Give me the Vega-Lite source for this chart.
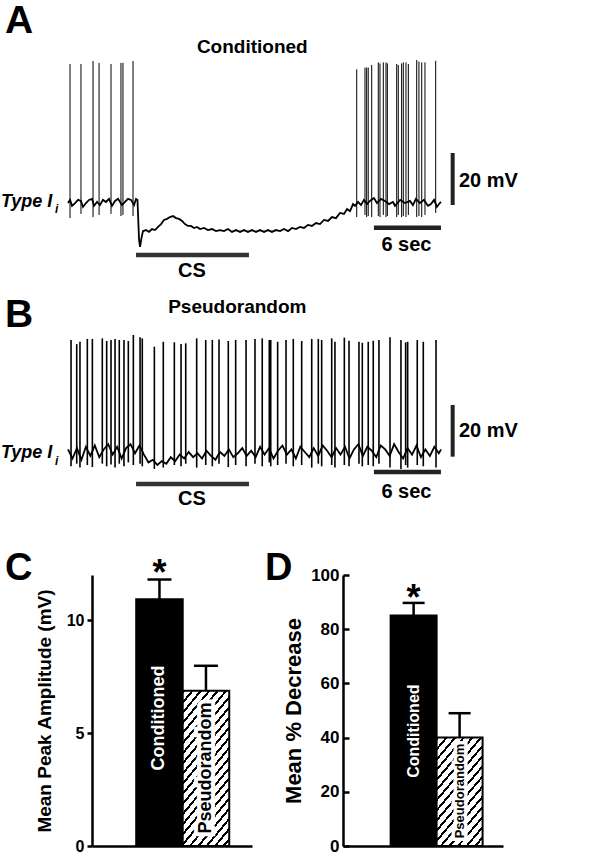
{
"$schema": "https://vega.github.io/schema/vega-lite/v6.json",
"background": "white",
"padding": 0,
"spacing": 0,
"bounds": "flush",
"config": {"font": "Liberation Sans", "view": {"stroke": null}, "axis": {"grid": false}},
"datasets": {
"one": [{}],
"traceA": [{"t":0,"v":-0.4},{"t":0.18,"v":0.8},{"t":0.36,"v":-1.5},{"t":0.63,"v":-0.4},{"t":0.9,"v":0.8},{"t":1.16,"v":0.4},{"t":1.34,"v":-1.9},{"t":1.61,"v":-0.4},{"t":1.88,"v":0.8},{"t":2.15,"v":1.2},{"t":2.33,"v":-1.5},{"t":2.6,"v":0},{"t":2.86,"v":-1.2},{"t":3.13,"v":0.8},{"t":3.4,"v":0},{"t":3.67,"v":1.2},{"t":3.94,"v":-1.5},{"t":4.21,"v":0.4},{"t":4.48,"v":1.2},{"t":4.83,"v":-1.2},{"t":5.1,"v":0},{"t":5.37,"v":1.2},{"t":5.64,"v":0.8},{"t":5.91,"v":-1.2},{"t":6.09,"v":1.2},{"t":6.22,"v":0.8},{"t":6.36,"v":-14.6},{"t":6.45,"v":-17.3},{"t":6.58,"v":-13.8},{"t":6.71,"v":-11.2},{"t":6.98,"v":-10.8},{"t":7.25,"v":-11.5},{"t":7.52,"v":-10.4},{"t":7.79,"v":-10.8},{"t":8.06,"v":-9.6},{"t":8.33,"v":-8.5},{"t":8.59,"v":-6.9},{"t":8.86,"v":-6.5},{"t":9.13,"v":-5.8},{"t":9.4,"v":-5.4},{"t":9.67,"v":-6.2},{"t":9.94,"v":-6.5},{"t":10.21,"v":-7.3},{"t":10.47,"v":-8.5},{"t":10.74,"v":-9.2},{"t":11.01,"v":-9.2},{"t":11.28,"v":-10},{"t":11.55,"v":-9.6},{"t":11.82,"v":-10.4},{"t":12.18,"v":-10},{"t":12.53,"v":-10.8},{"t":12.89,"v":-10.4},{"t":13.25,"v":-11.2},{"t":13.61,"v":-10.8},{"t":13.97,"v":-11.2},{"t":14.32,"v":-10.4},{"t":14.68,"v":-11.5},{"t":15.04,"v":-10.8},{"t":15.4,"v":-11.5},{"t":15.76,"v":-10.8},{"t":16.11,"v":-11.5},{"t":16.47,"v":-10.8},{"t":16.83,"v":-11.5},{"t":17.19,"v":-10.8},{"t":17.55,"v":-11.5},{"t":17.9,"v":-10.8},{"t":18.26,"v":-11.5},{"t":18.62,"v":-10.8},{"t":18.98,"v":-11.2},{"t":19.34,"v":-10.4},{"t":19.7,"v":-11.2},{"t":20.05,"v":-10},{"t":20.41,"v":-10.4},{"t":20.77,"v":-9.6},{"t":21.13,"v":-10},{"t":21.49,"v":-8.8},{"t":21.84,"v":-9.2},{"t":22.2,"v":-8.1},{"t":22.56,"v":-8.5},{"t":22.92,"v":-6.9},{"t":23.28,"v":-7.3},{"t":23.63,"v":-5.8},{"t":23.99,"v":-6.2},{"t":24.35,"v":-4.2},{"t":24.71,"v":-4.6},{"t":24.98,"v":-2.7},{"t":25.25,"v":-3.5},{"t":25.52,"v":-0.8},{"t":25.7,"v":-1.5},{"t":25.97,"v":0},{"t":26.23,"v":-1.2},{"t":26.5,"v":0.8},{"t":26.77,"v":-0.8},{"t":27.03,"v":0.4},{"t":27.39,"v":1.5},{"t":27.66,"v":-0.4},{"t":28.02,"v":1.2},{"t":28.38,"v":0.4},{"t":28.74,"v":-0.8},{"t":29.1,"v":0},{"t":29.28,"v":-1.5},{"t":29.74,"v":0.8},{"t":30.18,"v":-0.4},{"t":30.62,"v":0.4},{"t":30.88,"v":-1.2},{"t":31.15,"v":1.2},{"t":31.51,"v":-0.4},{"t":31.87,"v":0.8},{"t":32.23,"v":-1.5},{"t":32.5,"v":-0.8},{"t":32.77,"v":0.8},{"t":33.03,"v":-1.9},{"t":33.21,"v":-0.8},{"t":33.39,"v":0}],
"spikesA": [{"t":0.18,"peak":53.1,"low":-6.2},{"t":1.16,"peak":53.1,"low":-4.6},{"t":2.24,"peak":54.2,"low":-5.8},{"t":2.78,"peak":53.5,"low":-5.0},{"t":3.85,"peak":53.1,"low":-4.6},{"t":4.74,"peak":53.5,"low":-5.4},{"t":4.92,"peak":53.5,"low":-5.0},{"t":5.82,"peak":54.2,"low":-5.4},{"t":25.85,"peak":51.0,"low":-5.8},{"t":26.59,"peak":51.7,"low":-5.0},{"t":26.74,"peak":51.7,"low":-5.8},{"t":26.88,"peak":51.7,"low":-5.4},{"t":27.19,"peak":52.7,"low":-5.8},{"t":27.78,"peak":53.7,"low":-5.4},{"t":27.93,"peak":53.3,"low":-5.8},{"t":28.23,"peak":53.7,"low":-5.0},{"t":28.47,"peak":53.7,"low":-5.8},{"t":28.59,"peak":53.3,"low":-5.4},{"t":29.43,"peak":53.1,"low":-5.8},{"t":29.57,"peak":52.7,"low":-5.0},{"t":29.87,"peak":53.3,"low":-5.8},{"t":30.02,"peak":53.7,"low":-5.4},{"t":30.26,"peak":53.7,"low":-5.8},{"t":30.47,"peak":53.1,"low":-5.0},{"t":31.22,"peak":54.6,"low":-5.8},{"t":31.42,"peak":54.0,"low":-5.4},{"t":31.67,"peak":53.7,"low":-5.8},{"t":31.96,"peak":53.7,"low":-5.0},{"t":32.92,"peak":54.3,"low":-4.2}],
"traceB": [{"t":0,"v":1.0},{"t":0.4,"v":-2.5},{"t":0.8,"v":1.5},{"t":1.2,"v":-3.0},{"t":1.6,"v":2.0},{"t":2.0,"v":-1.5},{"t":2.4,"v":2.5},{"t":2.8,"v":-2.0},{"t":3.2,"v":1.0},{"t":3.6,"v":3.0},{"t":4.0,"v":-1.0},{"t":4.4,"v":2.0},{"t":4.8,"v":-2.5},{"t":5.2,"v":1.5},{"t":5.6,"v":3.0},{"t":6.0,"v":-0.5},{"t":6.4,"v":2.5},{"t":6.8,"v":-1.0},{"t":7.2,"v":-4.0},{"t":7.6,"v":-3.0},{"t":8.0,"v":-5.0},{"t":8.4,"v":-3.5},{"t":8.8,"v":-4.5},{"t":9.2,"v":-2.0},{"t":9.6,"v":-3.5},{"t":10.0,"v":-1.0},{"t":10.4,"v":-2.5},{"t":10.8,"v":0.0},{"t":11.2,"v":-2.0},{"t":11.6,"v":-0.5},{"t":12.0,"v":-2.5},{"t":12.4,"v":0.5},{"t":12.8,"v":-1.5},{"t":13.2,"v":-3.0},{"t":13.6,"v":0.0},{"t":14.0,"v":-1.5},{"t":14.4,"v":1.0},{"t":14.8,"v":-2.0},{"t":15.2,"v":-0.5},{"t":15.6,"v":1.5},{"t":16.0,"v":-1.5},{"t":16.4,"v":0.5},{"t":16.8,"v":-2.0},{"t":17.2,"v":2.0},{"t":17.6,"v":-1.0},{"t":18.0,"v":1.5},{"t":18.4,"v":-2.5},{"t":18.8,"v":0.5},{"t":19.2,"v":2.5},{"t":19.6,"v":-1.0},{"t":20.0,"v":1.0},{"t":20.4,"v":-2.5},{"t":20.8,"v":2.0},{"t":21.2,"v":0.0},{"t":21.6,"v":-2.0},{"t":22.0,"v":1.5},{"t":22.4,"v":-1.5},{"t":22.8,"v":2.5},{"t":23.2,"v":0.5},{"t":23.6,"v":-2.0},{"t":24.0,"v":1.5},{"t":24.4,"v":-1.0},{"t":24.8,"v":2.0},{"t":25.2,"v":-2.5},{"t":25.6,"v":1.0},{"t":26.0,"v":3.0},{"t":26.4,"v":-1.5},{"t":26.8,"v":2.0},{"t":27.2,"v":0.5},{"t":27.6,"v":-2.0},{"t":28.0,"v":2.5},{"t":28.4,"v":1.0},{"t":28.8,"v":-1.5},{"t":29.2,"v":3.0},{"t":29.6,"v":0.0},{"t":30.0,"v":-2.5},{"t":30.4,"v":1.5},{"t":30.8,"v":-1.0},{"t":31.2,"v":2.5},{"t":31.6,"v":-2.0},{"t":32.0,"v":1.0},{"t":32.4,"v":-1.5},{"t":32.8,"v":2.0},{"t":33.2,"v":-0.5},{"t":33.4,"v":1.0}],
"spikesB": [{"t":0.27,"peak":43.1,"low":-5.5},{"t":0.78,"peak":41.5,"low":-4.5},{"t":1.07,"peak":42.4,"low":-6.0},{"t":1.73,"peak":43.5,"low":-5.0},{"t":2.18,"peak":43.5,"low":-5.8},{"t":3.07,"peak":43.7,"low":-4.5},{"t":3.46,"peak":42.7,"low":-5.5},{"t":3.85,"peak":43.1,"low":-4.8},{"t":4.21,"peak":43.5,"low":-6.0},{"t":4.59,"peak":43.1,"low":-4.5},{"t":5.01,"peak":43.1,"low":-5.5},{"t":5.4,"peak":42.7,"low":-4.0},{"t":5.85,"peak":45.0,"low":-5.0},{"t":6.45,"peak":44.1,"low":-4.5},{"t":6.65,"peak":43.7,"low":-5.5},{"t":7.73,"peak":40.5,"low":-6.5},{"t":8.53,"peak":42.4,"low":-6.0},{"t":9.52,"peak":42.2,"low":-5.0},{"t":10.12,"peak":41.5,"low":-5.5},{"t":10.54,"peak":41.8,"low":-4.5},{"t":11.52,"peak":43.7,"low":-6.0},{"t":12.33,"peak":43.1,"low":-5.0},{"t":12.92,"peak":43.1,"low":-5.5},{"t":13.52,"peak":43.3,"low":-4.5},{"t":14.35,"peak":42.7,"low":-5.8},{"t":15.01,"peak":43.1,"low":-5.0},{"t":15.94,"peak":43.1,"low":-5.5},{"t":16.74,"peak":43.5,"low":-4.5},{"t":17.39,"peak":43.7,"low":-5.5},{"t":18.02,"peak":43.1,"low":-4.0},{"t":18.15,"peak":43.1,"low":-5.5},{"t":18.77,"peak":42.4,"low":-5.0},{"t":19.52,"peak":43.1,"low":-4.5},{"t":20.17,"peak":43.5,"low":-5.5},{"t":20.92,"peak":42.7,"low":-5.0},{"t":21.82,"peak":43.5,"low":-6.0},{"t":22.41,"peak":43.5,"low":-4.5},{"t":22.71,"peak":43.1,"low":-5.5},{"t":23.61,"peak":43.7,"low":-5.0},{"t":23.9,"peak":42.4,"low":-6.0},{"t":24.74,"peak":44.0,"low":-5.0},{"t":25.16,"peak":42.8,"low":-5.5},{"t":26.05,"peak":42.4,"low":-4.5},{"t":26.35,"peak":42.0,"low":-5.5},{"t":26.88,"peak":42.4,"low":-5.0},{"t":27.33,"peak":42.8,"low":-5.5},{"t":27.84,"peak":43.1,"low":-4.5},{"t":28.83,"peak":44.1,"low":-6.0},{"t":29.81,"peak":43.1,"low":-6.5},{"t":30.23,"peak":42.2,"low":-5.0},{"t":30.41,"peak":42.4,"low":-6.0},{"t":31.27,"peak":43.1,"low":-5.0},{"t":31.81,"peak":42.4,"low":-5.5},{"t":32.95,"peak":43.1,"low":-6.0}],
"barsC": [{"group":"Conditioned","mean":10.93,"upper":11.8},{"group":"Pseudorandom","mean":6.87,"upper":7.98}],
"barsD": [{"group":"Conditioned","mean":85.1,"upper":89.7},{"group":"Pseudorandom","mean":40.0,"upper":49.0}]
},
"vconcat": [
{
"width": 603, "height": 275,
"layer": [
{"data": {"name": "traceA"}, "mark": {"type": "line", "color": "black", "strokeWidth": 1.8},
 "encoding": {"x": {"field": "t", "type": "quantitative", "scale": {"domain": [-6.09, 47.9], "nice": false, "zero": false}, "axis": null},
              "y": {"field": "v", "type": "quantitative", "scale": {"domain": [-28.08, 77.69], "nice": false, "zero": false}, "axis": null}}},
{"data": {"name": "spikesA"}, "mark": {"type": "rule", "color": "black", "strokeWidth": 1},
 "encoding": {"x": {"field": "t", "type": "quantitative"}, "y": {"field": "low", "type": "quantitative"}, "y2": {"field": "peak"}}},
{"data": {"name": "one"}, "mark": {"type": "rule", "color": "#222", "strokeWidth": 4}, "encoding": {"x": {"datum": 34.44}, "y": {"datum": -1.15}, "y2": {"datum": 18.85}}},
{"data": {"name": "one"}, "mark": {"type": "rule", "color": "#222", "strokeWidth": 4.5}, "encoding": {"x": {"datum": 27.39}, "x2": {"datum": 33.39}, "y": {"datum": -9.88}}},
{"data": {"name": "one"}, "mark": {"type": "rule", "color": "#333", "strokeWidth": 4.5}, "encoding": {"x": {"datum": 6.09}, "x2": {"datum": 16.2}, "y": {"datum": -20.4}}},
{"data": {"name": "one"}, "mark": {"type": "text", "text": "A", "fontSize": 39, "fontWeight": "bold", "align": "center", "baseline": "alphabetic"}, "encoding": {"x": {"datum": -4.39}, "y": {"datum": 65.0}}},
{"data": {"name": "one"}, "mark": {"type": "text", "text": "Conditioned", "fontSize": 19, "fontWeight": "bold", "align": "center", "baseline": "alphabetic"}, "encoding": {"x": {"datum": 16.5}, "y": {"datum": 57.2}}},
{"data": {"name": "one"}, "mark": {"type": "text", "text": "Type I", "fontSize": 18, "fontWeight": "bold", "fontStyle": "italic", "align": "left", "baseline": "alphabetic"}, "encoding": {"x": {"datum": -6.0}, "y": {"datum": -2.0}}},
{"data": {"name": "one"}, "mark": {"type": "text", "text": "i", "fontSize": 12, "fontWeight": "bold", "fontStyle": "italic", "align": "left", "baseline": "alphabetic"}, "encoding": {"x": {"datum": -1.16}, "y": {"datum": -4.3}}},
{"data": {"name": "one"}, "mark": {"type": "text", "text": "20 mV", "fontSize": 20, "fontWeight": "bold", "align": "left", "baseline": "alphabetic"}, "encoding": {"x": {"datum": 35.0}, "y": {"datum": 5.9}}},
{"data": {"name": "one"}, "mark": {"type": "text", "text": "6 sec", "fontSize": 20, "fontWeight": "bold", "align": "center", "baseline": "alphabetic"}, "encoding": {"x": {"datum": 30.3}, "y": {"datum": -18.7}}},
{"data": {"name": "one"}, "mark": {"type": "text", "text": "CS", "fontSize": 20, "fontWeight": "bold", "align": "center", "baseline": "alphabetic"}, "encoding": {"x": {"datum": 11.1}, "y": {"datum": -28.7}}}
]
},
{
"width": 603, "height": 300,
"layer": [
{"data": {"name": "traceB"}, "mark": {"type": "line", "color": "black", "strokeWidth": 1.8},
 "encoding": {"x": {"field": "t", "type": "quantitative", "scale": {"domain": [-6.09, 47.9], "nice": false, "zero": false}, "axis": null},
              "y": {"field": "v", "type": "quantitative", "scale": {"domain": [-47.31, 68.08], "nice": false, "zero": false}, "axis": null}}},
{"data": {"name": "spikesB"}, "mark": {"type": "rule", "color": "black", "strokeWidth": 1.6},
 "encoding": {"x": {"field": "t", "type": "quantitative"}, "y": {"field": "low", "type": "quantitative"}, "y2": {"field": "peak"}}},
{"data": {"name": "one"}, "mark": {"type": "rule", "color": "#222", "strokeWidth": 4}, "encoding": {"x": {"datum": 34.44}, "y": {"datum": -1.8}, "y2": {"datum": 18.1}}},
{"data": {"name": "one"}, "mark": {"type": "rule", "color": "#222", "strokeWidth": 4.5}, "encoding": {"x": {"datum": 27.39}, "x2": {"datum": 33.39}, "y": {"datum": -7.7}}},
{"data": {"name": "one"}, "mark": {"type": "rule", "color": "#333", "strokeWidth": 4.5}, "encoding": {"x": {"datum": 6.09}, "x2": {"datum": 16.2}, "y": {"datum": -12.3}}},
{"data": {"name": "one"}, "mark": {"type": "text", "text": "B", "fontSize": 39, "fontWeight": "bold", "align": "center", "baseline": "alphabetic"}, "encoding": {"x": {"datum": -4.39}, "y": {"datum": 48.2}}},
{"data": {"name": "one"}, "mark": {"type": "text", "text": "Pseudorandom", "fontSize": 19, "fontWeight": "bold", "align": "center", "baseline": "alphabetic"}, "encoding": {"x": {"datum": 15.16}, "y": {"datum": 53.6}}},
{"data": {"name": "one"}, "mark": {"type": "text", "text": "Type I", "fontSize": 18, "fontWeight": "bold", "fontStyle": "italic", "align": "left", "baseline": "alphabetic"}, "encoding": {"x": {"datum": -6.0}, "y": {"datum": -2.4}}},
{"data": {"name": "one"}, "mark": {"type": "text", "text": "i", "fontSize": 12, "fontWeight": "bold", "fontStyle": "italic", "align": "left", "baseline": "alphabetic"}, "encoding": {"x": {"datum": -1.16}, "y": {"datum": -5.0}}},
{"data": {"name": "one"}, "mark": {"type": "text", "text": "20 mV", "fontSize": 20, "fontWeight": "bold", "align": "left", "baseline": "alphabetic"}, "encoding": {"x": {"datum": 35.0}, "y": {"datum": 5.9}}},
{"data": {"name": "one"}, "mark": {"type": "text", "text": "6 sec", "fontSize": 20, "fontWeight": "bold", "align": "center", "baseline": "alphabetic"}, "encoding": {"x": {"datum": 30.3}, "y": {"datum": -17.8}}},
{"data": {"name": "one"}, "mark": {"type": "text", "text": "CS", "fontSize": 20, "fontWeight": "bold", "align": "center", "baseline": "alphabetic"}, "encoding": {"x": {"datum": 11.1}, "y": {"datum": -20.4}}}
]
},
{
"hconcat": [
{"width": 92, "height": 271, "data": {"values": []}, "mark": "point"},
{
"width": 160, "height": 271,
"title": {"text": "C", "anchor": "start", "frame": "group", "fontSize": 38, "fontWeight": "bold", "color": "black", "dx": -87, "offset": 0, "baseline": "alphabetic", "dy": 62},
"data": {"name": "barsC"},
"encoding": {"x": {"field": "group", "type": "nominal", "scale": {"domain": ["Conditioned", "Pseudorandom"], "paddingInner": 0, "paddingOuter": 0.72, "align": 0.66},
  "axis": {"labels": false, "ticks": false, "title": null, "domainWidth": 2.5, "domainColor": "black"}}},
"layer": [
{"transform": [{"filter": "datum.group === 'Conditioned'"}], "mark": {"type": "bar", "fill": "black", "stroke": "black", "strokeWidth": 2},
 "encoding": {"y": {"field": "mean", "type": "quantitative", "scale": {"domain": [0, 12], "nice": false},
   "axis": {"values": [0, 5, 10], "title": "Mean Peak Amplitude (mV)", "titleFontSize": 19, "titleFontWeight": "bold", "titleColor": "black", "titlePadding": 12,
            "labelFontSize": 16, "labelFontWeight": "bold", "labelColor": "black", "labelPadding": 3,
            "domainColor": "black", "domainWidth": 2.5, "tickColor": "black", "tickWidth": 2.5, "tickSize": 5}}}},
{"transform": [{"filter": "datum.group === 'Pseudorandom'"}], "mark": {"type": "bar", "stroke": "black", "strokeWidth": 2,
  "fill": {"gradient": "linear", "x1": 0, "y1": 0, "x2": 0.436, "y2": 1.204, "stops": [
  {"offset":0,"color":"black"},{"offset":0.015,"color":"black"},{"offset":0.015,"color":"white"},{"offset":0.048,"color":"white"},
  {"offset":0.048,"color":"black"},{"offset":0.063,"color":"black"},{"offset":0.063,"color":"white"},{"offset":0.096,"color":"white"},
  {"offset":0.096,"color":"black"},{"offset":0.111,"color":"black"},{"offset":0.111,"color":"white"},{"offset":0.144,"color":"white"},
  {"offset":0.144,"color":"black"},{"offset":0.159,"color":"black"},{"offset":0.159,"color":"white"},{"offset":0.192,"color":"white"},
  {"offset":0.192,"color":"black"},{"offset":0.207,"color":"black"},{"offset":0.207,"color":"white"},{"offset":0.24,"color":"white"},
  {"offset":0.24,"color":"black"},{"offset":0.255,"color":"black"},{"offset":0.255,"color":"white"},{"offset":0.288,"color":"white"},
  {"offset":0.288,"color":"black"},{"offset":0.303,"color":"black"},{"offset":0.303,"color":"white"},{"offset":0.336,"color":"white"},
  {"offset":0.336,"color":"black"},{"offset":0.351,"color":"black"},{"offset":0.351,"color":"white"},{"offset":0.384,"color":"white"},
  {"offset":0.384,"color":"black"},{"offset":0.399,"color":"black"},{"offset":0.399,"color":"white"},{"offset":0.432,"color":"white"},
  {"offset":0.432,"color":"black"},{"offset":0.447,"color":"black"},{"offset":0.447,"color":"white"},{"offset":0.48,"color":"white"},
  {"offset":0.48,"color":"black"},{"offset":0.495,"color":"black"},{"offset":0.495,"color":"white"},{"offset":0.528,"color":"white"},
  {"offset":0.528,"color":"black"},{"offset":0.543,"color":"black"},{"offset":0.543,"color":"white"},{"offset":0.576,"color":"white"},
  {"offset":0.576,"color":"black"},{"offset":0.591,"color":"black"},{"offset":0.591,"color":"white"},{"offset":0.624,"color":"white"},
  {"offset":0.624,"color":"black"},{"offset":0.639,"color":"black"},{"offset":0.639,"color":"white"},{"offset":0.672,"color":"white"},
  {"offset":0.672,"color":"black"},{"offset":0.687,"color":"black"},{"offset":0.687,"color":"white"},{"offset":0.72,"color":"white"},
  {"offset":0.72,"color":"black"},{"offset":0.735,"color":"black"},{"offset":0.735,"color":"white"},{"offset":0.768,"color":"white"},
  {"offset":0.768,"color":"black"},{"offset":0.783,"color":"black"},{"offset":0.783,"color":"white"},{"offset":0.816,"color":"white"},
  {"offset":0.816,"color":"black"},{"offset":0.831,"color":"black"},{"offset":0.831,"color":"white"},{"offset":0.864,"color":"white"},
  {"offset":0.864,"color":"black"},{"offset":0.879,"color":"black"},{"offset":0.879,"color":"white"},{"offset":0.912,"color":"white"},
  {"offset":0.912,"color":"black"},{"offset":0.927,"color":"black"},{"offset":0.927,"color":"white"},{"offset":0.96,"color":"white"},
  {"offset":0.96,"color":"black"},{"offset":0.975,"color":"black"},{"offset":0.975,"color":"white"},{"offset":1,"color":"white"}]}},
 "encoding": {"y": {"field": "mean", "type": "quantitative"}}},
{"mark": {"type": "rule", "color": "black", "strokeWidth": 2.5}, "encoding": {"y": {"field": "mean", "type": "quantitative"}, "y2": {"field": "upper"}}},
{"mark": {"type": "tick", "color": "black", "thickness": 2.5, "size": 24, "opacity": 1}, "encoding": {"y": {"field": "upper", "type": "quantitative"}}},
{"transform": [{"filter": "datum.group === 'Conditioned'"}], "mark": {"type": "text", "text": "*", "fontSize": 36, "fontWeight": "bold", "baseline": "alphabetic", "dy": 5}, "encoding": {"y": {"field": "upper", "type": "quantitative"}}},
{"data": {"name": "one"}, "mark": {"type": "text", "text": "Conditioned", "fontSize": 18, "fontWeight": "bold", "angle": 270, "align": "center", "baseline": "middle", "fill": "white"}, "encoding": {"x": {"datum": "Conditioned"}, "y": {"datum": 5.67}}},
{"data": {"name": "one"}, "mark": {"type": "text", "text": "Pseudorandom", "fontSize": 18, "fontWeight": "bold", "angle": 270, "align": "center", "baseline": "middle", "fill": "white", "stroke": "white", "strokeWidth": 8}, "encoding": {"x": {"datum": "Pseudorandom"}, "y": {"datum": 3.45}}},
{"data": {"name": "one"}, "mark": {"type": "text", "text": "Pseudorandom", "fontSize": 18, "fontWeight": "bold", "angle": 270, "align": "center", "baseline": "middle", "fill": "black"}, "encoding": {"x": {"datum": "Pseudorandom"}, "y": {"datum": 3.45}}}
]
},
{"width": 91, "height": 271, "data": {"values": []}, "mark": "point"},
{
"width": 160, "height": 271,
"title": {"text": "D", "anchor": "start", "frame": "group", "fontSize": 38, "fontWeight": "bold", "color": "black", "dx": -78, "offset": 0, "baseline": "alphabetic", "dy": 52},
"data": {"name": "barsD"},
"encoding": {"x": {"field": "group", "type": "nominal", "scale": {"domain": ["Conditioned", "Pseudorandom"], "paddingInner": 0, "paddingOuter": 0.74, "align": 0.7},
  "axis": {"labels": false, "ticks": false, "title": null, "domainWidth": 2.5, "domainColor": "black"}}},
"layer": [
{"transform": [{"filter": "datum.group === 'Conditioned'"}], "mark": {"type": "bar", "fill": "black", "stroke": "black", "strokeWidth": 2},
 "encoding": {"y": {"field": "mean", "type": "quantitative", "scale": {"domain": [0, 100], "nice": false},
   "axis": {"values": [0, 10, 20, 30, 40, 50, 60, 70, 80, 90, 100], "labelExpr": "datum.value % 20 === 0 ? datum.label : ''",
            "title": "Mean % Decrease", "titleFontSize": 22, "titleFontWeight": "bold", "titleColor": "black", "titlePadding": 5,
            "labelFontSize": 17, "labelFontWeight": "bold", "labelColor": "black", "labelPadding": 10,
            "domainColor": "black", "domainWidth": 2.5, "tickColor": "black", "tickWidth": 2.5, "tickSize": -6}}}},
{"transform": [{"filter": "datum.group === 'Pseudorandom'"}], "mark": {"type": "bar", "stroke": "black", "strokeWidth": 2,
  "fill": {"gradient": "linear", "x1": 0, "y1": 0, "x2": 0.6, "y2": 1.2, "stops": [
  {"offset":0,"color":"black"},{"offset":0.019,"color":"black"},{"offset":0.019,"color":"white"},{"offset":0.0625,"color":"white"},
  {"offset":0.0625,"color":"black"},{"offset":0.0815,"color":"black"},{"offset":0.0815,"color":"white"},{"offset":0.125,"color":"white"},
  {"offset":0.125,"color":"black"},{"offset":0.144,"color":"black"},{"offset":0.144,"color":"white"},{"offset":0.1875,"color":"white"},
  {"offset":0.1875,"color":"black"},{"offset":0.2065,"color":"black"},{"offset":0.2065,"color":"white"},{"offset":0.25,"color":"white"},
  {"offset":0.25,"color":"black"},{"offset":0.269,"color":"black"},{"offset":0.269,"color":"white"},{"offset":0.3125,"color":"white"},
  {"offset":0.3125,"color":"black"},{"offset":0.3315,"color":"black"},{"offset":0.3315,"color":"white"},{"offset":0.375,"color":"white"},
  {"offset":0.375,"color":"black"},{"offset":0.394,"color":"black"},{"offset":0.394,"color":"white"},{"offset":0.4375,"color":"white"},
  {"offset":0.4375,"color":"black"},{"offset":0.4565,"color":"black"},{"offset":0.4565,"color":"white"},{"offset":0.5,"color":"white"},
  {"offset":0.5,"color":"black"},{"offset":0.519,"color":"black"},{"offset":0.519,"color":"white"},{"offset":0.5625,"color":"white"},
  {"offset":0.5625,"color":"black"},{"offset":0.5815,"color":"black"},{"offset":0.5815,"color":"white"},{"offset":0.625,"color":"white"},
  {"offset":0.625,"color":"black"},{"offset":0.644,"color":"black"},{"offset":0.644,"color":"white"},{"offset":0.6875,"color":"white"},
  {"offset":0.6875,"color":"black"},{"offset":0.7065,"color":"black"},{"offset":0.7065,"color":"white"},{"offset":0.75,"color":"white"},
  {"offset":0.75,"color":"black"},{"offset":0.769,"color":"black"},{"offset":0.769,"color":"white"},{"offset":0.8125,"color":"white"},
  {"offset":0.8125,"color":"black"},{"offset":0.8315,"color":"black"},{"offset":0.8315,"color":"white"},{"offset":0.875,"color":"white"},
  {"offset":0.875,"color":"black"},{"offset":0.894,"color":"black"},{"offset":0.894,"color":"white"},{"offset":0.9375,"color":"white"},
  {"offset":0.9375,"color":"black"},{"offset":0.9565,"color":"black"},{"offset":0.9565,"color":"white"},{"offset":1,"color":"white"}]}},
 "encoding": {"y": {"field": "mean", "type": "quantitative"}}},
{"mark": {"type": "rule", "color": "black", "strokeWidth": 2.5}, "encoding": {"y": {"field": "mean", "type": "quantitative"}, "y2": {"field": "upper"}}},
{"mark": {"type": "tick", "color": "black", "thickness": 2.5, "size": 22, "opacity": 1}, "encoding": {"y": {"field": "upper", "type": "quantitative"}}},
{"transform": [{"filter": "datum.group === 'Conditioned'"}], "mark": {"type": "text", "text": "*", "fontSize": 36, "fontWeight": "bold", "baseline": "alphabetic", "dy": 7}, "encoding": {"y": {"field": "upper", "type": "quantitative"}}},
{"data": {"name": "one"}, "mark": {"type": "text", "text": "Conditioned", "fontSize": 16, "fontWeight": "bold", "angle": 270, "align": "center", "baseline": "middle", "fill": "white"}, "encoding": {"x": {"datum": "Conditioned"}, "y": {"datum": 42.4}}},
{"data": {"name": "one"}, "mark": {"type": "text", "text": "Pseudorandom", "fontSize": 13, "fontWeight": "bold", "angle": 270, "align": "center", "baseline": "middle", "fill": "white", "stroke": "white", "strokeWidth": 7}, "encoding": {"x": {"datum": "Pseudorandom"}, "y": {"datum": 20.3}}},
{"data": {"name": "one"}, "mark": {"type": "text", "text": "Pseudorandom", "fontSize": 13, "fontWeight": "bold", "angle": 270, "align": "center", "baseline": "middle", "fill": "black"}, "encoding": {"x": {"datum": "Pseudorandom"}, "y": {"datum": 20.3}}}
]
}
],
"spacing": 0,
"bounds": "flush"
}
]
}
